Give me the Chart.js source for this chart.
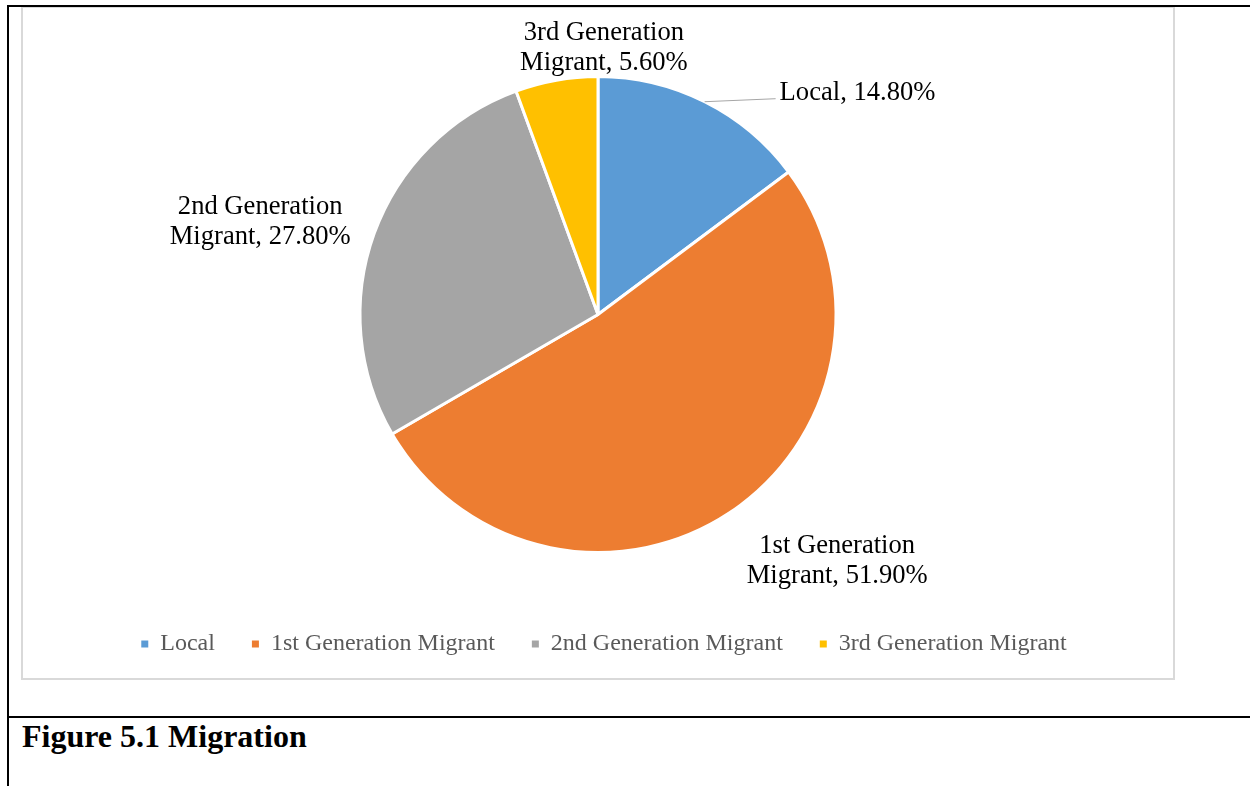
<!DOCTYPE html>
<html>
<head>
<meta charset="utf-8">
<title>Figure 5.1 Migration</title>
<script src="https://cdn.jsdelivr.net/npm/chart.js@4.4.0/dist/chart.umd.min.js"></script>
<style>
  body {
    margin: 0;
    width: 1250px;
    height: 786px;
    position: relative;
    overflow: hidden;
    background: #fff;
    font-family: "Liberation Serif", "Times New Roman", serif;
  }
  .chart-box {
    position: absolute;
    left: 21px;
    top: 6px;
    width: 1150px;
    height: 670px;
    border: 2px solid #d9d9d9;
  }
  .chart-box canvas { display: block; }
  .rule { position: absolute; background: #000; }
  .rule-top { left: 7px; top: 5px; width: 1243px; height: 2px; }
  .rule-left { left: 7px; top: 5px; width: 2px; height: 781px; }
  .rule-mid { left: 7px; top: 716px; width: 1243px; height: 2px; }
  .caption {
    position: absolute;
    left: 22px;
    top: 720px;
    font-size: 32px;
    line-height: 32px;
    font-weight: bold;
    color: #000;
  }
</style>
</head>
<body>
<div class="chart-box"><canvas id="migrationChart" width="1150" height="670"></canvas></div>
<div class="rule rule-top"></div>
<div class="rule rule-left"></div>
<div class="rule rule-mid"></div>
<div class="caption">Figure 5.1 Migration</div>

<script>
// Migration status of respondents (%)
const categories = ['Local', '1st Generation Migrant', '2nd Generation Migrant', '3rd Generation Migrant'];
const shares = [14.8, 51.9, 27.8, 5.6];
const sliceColors = ['#5B9BD5', '#ED7D31', '#A5A5A5', '#FFC000'];

// first-line baseline of each data label, relative to the slice's outer edge at mid-angle
const labelPlacement = [
  { dx: 75, dy: -1.5, align: 'left', leader: [71, -3] },
  { dx: 108, dy: 40 },
  { dx: -114, dy: -20 },
  { dx: 47.5, dy: -40.5 }
];

const LABEL_FONT = '26.6px "Liberation Serif"';
const LINE_GAP = 30;
const LEGEND_SHIFT = 6;

// "3rd Generation Migrant" -> ["3rd Generation", "Migrant, 5.60%"]
function labelLines(i) {
  const name = categories[i];
  const value = shares[i].toFixed(2) + '%';
  const cut = name.lastIndexOf(' ');
  if (cut < 0) return [name + ', ' + value];
  return [name.slice(0, cut), name.slice(cut + 1) + ', ' + value];
}

const sliceLabels = {
  id: 'sliceLabels',
  afterDatasetsDraw(chart) {
    const ctx = chart.ctx;
    const meta = chart.getDatasetMeta(0);
    ctx.save();
    ctx.font = LABEL_FONT;
    ctx.fillStyle = '#000';
    ctx.textBaseline = 'alphabetic';
    meta.data.forEach((arc, i) => {
      const p = arc.getProps(['x', 'y', 'startAngle', 'endAngle', 'outerRadius'], true);
      const mid = (p.startAngle + p.endAngle) / 2;
      const ex = p.x + Math.cos(mid) * p.outerRadius;
      const ey = p.y + Math.sin(mid) * p.outerRadius;
      const place = labelPlacement[i];

      if (place.leader) {
        ctx.strokeStyle = '#a6a6a6';
        ctx.lineWidth = 1;
        ctx.beginPath();
        ctx.moveTo(ex, ey);
        ctx.lineTo(ex + place.leader[0], ey + place.leader[1]);
        ctx.stroke();
      }

      ctx.textAlign = place.align || 'center';
      labelLines(i).forEach((line, k) => {
        ctx.fillText(line, ex + place.dx, ey + place.dy + k * LINE_GAP);
      });
    });
    ctx.restore();
  }
};

// legend row sits a little right of the pie's centre line
const legendNudge = {
  id: 'legendNudge',
  afterLayout(chart) {
    chart.legend.left += LEGEND_SHIFT;
    chart.legend.right += LEGEND_SHIFT;
  }
};

const migrationChart = new Chart(document.getElementById('migrationChart'), {
  type: 'pie',
  data: {
    labels: categories,
    datasets: [{
      data: shares,
      backgroundColor: sliceColors,
      borderColor: '#fff',
      borderWidth: 3
    }]
  },
  options: {
    responsive: false,
    animation: false,
    events: [],
    radius: 238,
    layout: { padding: { top: 26, bottom: 12 } },
    plugins: {
      tooltip: { enabled: false },
      legend: {
        position: 'bottom',
        labels: {
          boxWidth: 7,
          boxHeight: 7,
          padding: 37,
          color: '#595959',
          font: { family: 'Liberation Serif', size: 24 },
          generateLabels(chart) {
            const base = Chart.overrides.doughnut.plugins.legend.labels.generateLabels(chart);
            return base.map(item => ({ ...item, lineWidth: 0, strokeStyle: item.fillStyle }));
          }
        }
      }
    }
  },
  plugins: [sliceLabels, legendNudge]
});
</script>
</body>
</html>
